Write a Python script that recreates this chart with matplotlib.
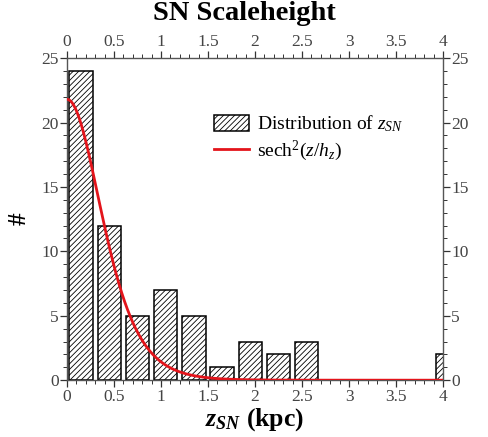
import numpy as np
import matplotlib
matplotlib.use("Agg")
import matplotlib.pyplot as plt
from matplotlib.ticker import MultipleLocator

# histogram of SN heights (bins of 0.3 kpc)
bin_centers = [0.15, 0.45, 0.75, 1.05, 1.35, 1.65, 1.95, 2.25, 2.55,
               2.85, 3.15, 3.45, 3.75, 4.05]
counts = [24, 12, 5, 7, 5, 1, 3, 2, 3, 0, 0, 0, 0, 2]

# sech^2 fit
fit_amp = 21.8
fit_hz = 0.49

plt.rcParams['font.family'] = ['Liberation Serif', 'DejaVu Serif']
plt.rcParams['mathtext.fontset'] = 'custom'
plt.rcParams['mathtext.rm'] = 'Liberation Serif'
plt.rcParams['mathtext.it'] = 'Liberation Serif:italic'
plt.rcParams['mathtext.bf'] = 'Liberation Serif:italic:bold'
plt.rcParams['hatch.linewidth'] = 0.6

fig = plt.figure(figsize=(4.89, 4.37), dpi=100)
ax = fig.add_axes([0.137, 0.130, 0.769, 0.737])

bars = ax.bar(bin_centers, counts, width=0.25, color='white', edgecolor='black',
              linewidth=1.1, hatch='//////', label=r'Distribution of $z_{SN}$', zorder=2)

z = np.linspace(0, 4, 400)
line, = ax.plot(z, fit_amp / np.cosh(z / fit_hz) ** 2, color='#e3141b', lw=2,
                label=r'sech$^2$($z/h_z$)', zorder=3)

ax.set_xlim(0, 4)
ax.set_ylim(0, 25)
ax.xaxis.set_minor_locator(MultipleLocator(0.1))
ax.yaxis.set_major_locator(MultipleLocator(5))
ax.yaxis.set_minor_locator(MultipleLocator(1))
ax.set_xticks([0, 0.5, 1, 1.5, 2, 2.5, 3, 3.5, 4])
ax.set_xticklabels(['0', '0.5', '1', '1.5', '2', '2.5', '3', '3.5', '4'])

ax.tick_params(which='both', direction='out', top=True, right=True,
               labeltop=True, labelright=True, labelsize=12.5, colors='#333333',
               labelcolor='#444444')
ax.tick_params(which='major', length=5, width=0.9, pad=1)
ax.tick_params(which='minor', length=3, width=0.7)
for s in ax.spines.values():
    s.set_color('#555555')
    s.set_linewidth(1.0)

ax.set_xlabel(r'$\mathbf{z_{SN}}$ (kpc)', fontsize=18.5, fontweight='bold', labelpad=1)
ax.set_ylabel('#', fontsize=18, fontweight='bold', labelpad=8)
fig.suptitle('SN Scaleheight', fontsize=20.5, fontweight='bold', y=0.998, va='top')

ax.legend([bars, line], [bars.get_label(), line.get_label()],
          loc='upper left', bbox_to_anchor=(0.355, 0.87), frameon=False,
          fontsize=14, handlelength=1.8, handleheight=0.9, labelspacing=0.25,
          handletextpad=0.4, borderpad=0.2)

fig.savefig('out.png', dpi=100)
plt.close(fig)
